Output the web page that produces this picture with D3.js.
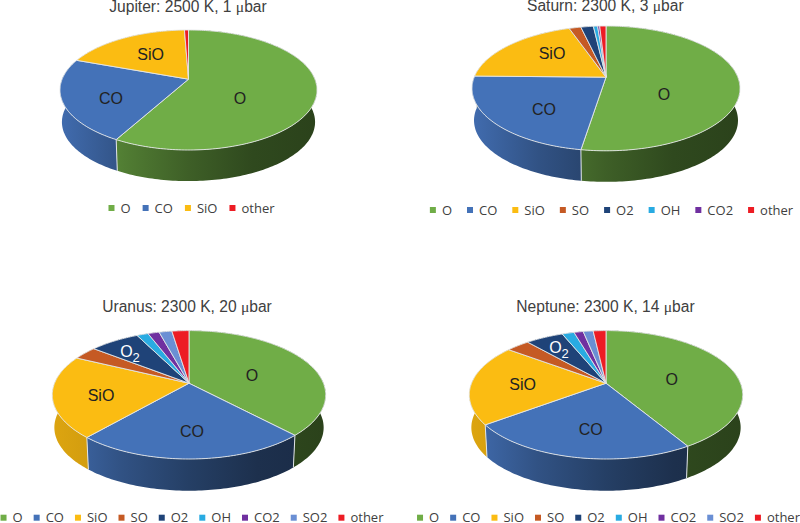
<!DOCTYPE html>
<html>
<head>
<meta charset="utf-8">
<script src="https://cdnjs.cloudflare.com/ajax/libs/d3/7.8.5/d3.min.js"></script>
<style>
  html, body { margin: 0; padding: 0; background: #fff; }
  svg { display: block; }
</style>
</head>
<body>
<div id="root"></div>
<script>
// values are percent shares
const jupiterSpecies = ["O", "CO", "SiO", "other"]
const jupiterValues = [58, 22.6, 18.8, 0.6]

const saturnSpecies = ["O", "CO", "SiO", "SO", "O2", "OH", "CO2", "other"]
const saturnValues = [52.5, 22.8, 19.4, 1.7, 1.8, 0.6, 0.3, 0.9]

const uranusSpecies = ["O", "CO", "SiO", "SO", "O2", "OH", "CO2", "SO2", "other"]
const uranusValues = [38, 23.4, 20.8, 3.4, 7, 1.6, 1.6, 1.8, 2.4]

const neptuneSpecies = ["O", "CO", "SiO", "SO", "O2", "OH", "CO2", "SO2", "other"]
const neptuneValues = [41.4, 23.4, 20.4, 3.3, 5.3, 1.7, 1.3, 1.4, 1.8]

const color = d3.scaleOrdinal()
  .domain(["O", "CO", "SiO", "SO", "O2", "OH", "CO2", "SO2", "other"])
  .range(["#70ad47", "#4472b8", "#fbbc12", "#c55a24", "#1f4378", "#29abe2", "#7030a0", "#6a8fd4", "#ed1c24"])

const width = 800
const height = 523
const tilt = 0.18 // how far the perspective pushes the pie's apex up

const panels = [
  {
    id: "jupiter", planet: "Jupiter", title: "2500 K, 1 ", species: jupiterSpecies, values: jupiterValues,
    cx: 188.5, cy: 90, rx: 128.5, ry: 60, depth: 32, titleX: 188, titleY: 12,
    legendX: 193, legendY: 208, legendGap: 15,
    labels: { O: [240, 98], CO: [111, 98], SiO: [150.7, 54] },
  },
  {
    id: "saturn", planet: "Saturn", title: "2300 K, 3 ", species: saturnSpecies, values: saturnValues,
    cx: 606, cy: 88.4, rx: 134, ry: 62.4, depth: 32, titleX: 605.3, titleY: 11,
    legendX: 613, legendY: 210, legendGap: 18,
    labels: { O: [664, 94.5], CO: [544, 109], SiO: [552, 53] },
  },
  {
    id: "uranus", planet: "Uranus", title: "2300 K, 20 ", species: uranusSpecies, values: uranusValues,
    cx: 189, cy: 394.8, rx: 136.7, ry: 64.2, depth: 32.7, titleX: 187, titleY: 312,
    legendX: 193.5, legendY: 517.7, legendGap: 14,
    labels: { O: [252, 375], CO: [192, 431], SiO: [101, 395] },
  },
  {
    id: "neptune", planet: "Neptune", title: "2300 K, 14 ", species: neptuneSpecies, values: neptuneValues,
    cx: 606, cy: 394.8, rx: 136.7, ry: 64.2, depth: 32.7, titleX: 605.5, titleY: 312,
    legendX: 610, legendY: 517.7, legendGap: 14,
    labels: { O: [671.7, 379], CO: [590.7, 429.5], SiO: [522.7, 384.5] },
  },
]
// the O2 label has a subscript and is white, so it is kept apart
const o2Labels = { uranus: [130, 351], neptune: [559, 347] }

const svg = d3.select("#root").append("svg")
  .attr("width", width)
  .attr("height", height)
  .style("font-family", "'Liberation Sans', Arial, sans-serif")

const defs = svg.append("defs")

// circle point to screen, a projective map that keeps the rim an ellipse
// and moves the centre up to where the slices meet
function project(p, angle, radius, lower) {
  const x = Math.sin(angle) * radius
  const y = -Math.cos(angle) * radius
  const w = 1 - tilt * y
  const u = x * Math.sqrt(1 - tilt * tilt) / w
  const v = (y - tilt) / w
  if (lower) {
    return [p.cx + u * p.rx * 0.985, p.cy + v * p.ry * 0.985 + p.depth]
  }
  return [p.cx + u * p.rx, p.cy + v * p.ry]
}

const line = d3.line()
const pie = d3.pie().sort(null).value(d => d.value)

function rimAngles(d) {
  const steps = Math.max(2, Math.ceil((d.endAngle - d.startAngle) / 0.02))
  return d3.range(steps + 1).map(i => d.startAngle + (d.endAngle - d.startAngle) * i / steps)
}

function sideGradient(p, name) {
  const id = `${p.id}-side-${name}`
  const base = d3.rgb(color(name))
  const shades = name === "SiO" ? [0.88, 0.8, 0.7, 0.6, 0.5] : [0.95, 0.72, 0.55, 0.42, 0.38]
  const grad = defs.append("linearGradient")
    .attr("id", id)
    .attr("gradientUnits", "userSpaceOnUse")
    .attr("x1", p.cx - p.rx)
    .attr("x2", p.cx + p.rx)
    .attr("y1", 0)
    .attr("y2", 0)
  shades.forEach((k, i) => {
    grad.append("stop")
      .attr("offset", i / (shades.length - 1))
      .attr("stop-color", d3.rgb(base.r * k, base.g * k, base.b * k).formatHex())
  })
  return `url(#${id})`
}

function drawPanel(p) {
  const g = svg.append("g")
  const rows = p.species.map((name, i) => ({ name, value: p.values[i] }))
  const arcs = pie(rows)

  // side wall first, the top face covers whatever is behind it
  const side = g.append("g")
  side.selectAll("path")
    .data(arcs)
    .join("path")
    .attr("fill", d => sideGradient(p, d.data.name))
    .attr("d", d => {
      const angles = rimAngles(d)
      const upper = angles.map(a => project(p, a, 1, false))
      const lower = angles.map(a => project(p, a, 1, true)).reverse()
      return line(upper.concat(lower)) + "Z"
    })

  side.selectAll("line")
    .data(arcs)
    .join("line")
    .attr("x1", d => project(p, d.startAngle, 1, false)[0])
    .attr("y1", d => project(p, d.startAngle, 1, false)[1])
    .attr("x2", d => project(p, d.startAngle, 1, true)[0])
    .attr("y2", d => project(p, d.startAngle, 1, true)[1])
    .attr("stroke", "#dfe3e6")
    .attr("stroke-width", 1)

  g.append("g")
    .selectAll("path")
    .data(arcs)
    .join("path")
    .attr("fill", d => color(d.data.name))
    .attr("stroke", "#e4e7e8")
    .attr("stroke-width", 0.9)
    .attr("stroke-linejoin", "round")
    .attr("d", d => {
      const rim = rimAngles(d).map(a => project(p, a, 1, false))
      return line([project(p, 0, 0, false), ...rim]) + "Z"
    })

  // labels on the slices
  g.append("g")
    .selectAll("text")
    .data(Object.entries(p.labels))
    .join("text")
    .attr("x", d => d[1][0])
    .attr("y", d => d[1][1])
    .attr("dy", "0.35em")
    .attr("text-anchor", "middle")
    .attr("font-size", 16)
    .attr("fill", "#222")
    .text(d => d[0])

  if (o2Labels[p.id]) {
    const o2 = g.append("text")
      .attr("x", o2Labels[p.id][0])
      .attr("y", o2Labels[p.id][1])
      .attr("dy", "0.35em")
      .attr("text-anchor", "middle")
      .attr("font-size", 16)
      .attr("fill", "#fff")
    o2.append("tspan").text("O")
    o2.append("tspan").attr("dy", 5).attr("font-size", 13).text("2")
  }

  // title, the mu sits in a serif face like the original
  const title = g.append("text")
    .attr("x", p.titleX)
    .attr("y", p.titleY)
    .attr("text-anchor", "middle")
    .attr("font-size", 15.6)
    .attr("fill", "#404040")
  title.append("tspan").text(`${p.planet}: ${p.title}`)
  title.append("tspan").attr("font-family", "'Liberation Serif', serif").text("\u03bc")
  title.append("tspan").text("bar")

  drawLegend(g, p)
}

function drawLegend(g, p) {
  const legend = g.append("g")
    .style("font-family", "'Open Sans', sans-serif")
    .attr("font-size", 13)
    .attr("fill", "#404040")

  const items = legend.selectAll("g")
    .data(p.species)
    .join("g")

  items.append("text")
    .attr("x", 9)
    .attr("dy", "0.35em")
    .text(d => d)

  items.append("rect")
    .attr("x", -3)
    .attr("y", -3)
    .attr("width", 6)
    .attr("height", 6)
    .attr("fill", d => color(d))

  // lay out by the measured label widths and centre the row
  let x = 0
  const starts = []
  items.selectAll("text").each(function () {
    starts.push(x)
    x += 9 + this.getComputedTextLength() + p.legendGap
  })
  const total = x - p.legendGap
  items.attr("transform", (d, i) => `translate(${p.legendX - total / 2 + starts[i]},${p.legendY})`)
}

panels.forEach(drawPanel)
</script>
</body>
</html>
